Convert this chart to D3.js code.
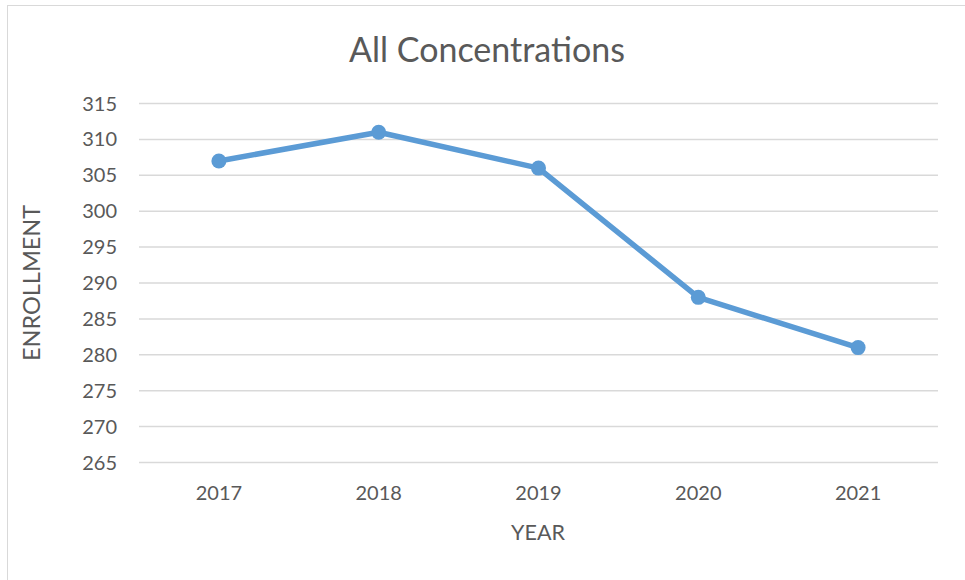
<!DOCTYPE html>
<html><head><meta charset="utf-8">
<script src="https://cdn.jsdelivr.net/npm/d3@7"></script>
<style>body{margin:0;background:#fff;} text{font-family:Lato, "Open Sans", sans-serif;fill:#595959;}</style>
</head><body>
<svg id="c" width="965" height="580"></svg>
<script>
const years = ["2017","2018","2019","2020","2021"];
const enrollment = [307, 311, 306, 288, 281];
const yTicks = [265,270,275,280,285,290,295,300,305,310,315];
const title = "All Concentrations";
const xTitle = "YEAR";
const yTitle = "ENROLLMENT";

(function(){
const svg = d3.select("#c");
svg.append("rect").attr("x",7.5).attr("y",5.5).attr("width",970).attr("height",590)
  .attr("fill","#fff").attr("stroke","#d9d9d9").attr("stroke-width",1);

const pl=139, pr=938, pt=103.5, pb=462.5;
const x = d3.scaleBand().domain(years).range([pl,pr]);
const y = d3.scaleLinear().domain([265,315]).range([pb,pt]);

svg.append("g").selectAll("line").data(yTicks).join("line")
  .attr("x1",pl).attr("x2",pr).attr("y1",d=>y(d)).attr("y2",d=>y(d))
  .attr("stroke","#d9d9d9").attr("stroke-width",1.5);

svg.append("g").selectAll("text").data(yTicks).join("text")
  .attr("x",117).attr("y",d=>y(d)).attr("dy","0.35em").attr("text-anchor","end")
  .attr("font-size",20).text(d=>d);

svg.append("g").selectAll("text").data(years).join("text")
  .attr("x",d=>x(d)+x.bandwidth()/2).attr("y",500).attr("text-anchor","middle")
  .attr("font-size",20).text(d=>d);

svg.append("text").attr("x",487).attr("y",62).attr("text-anchor","middle").attr("font-size",34).text(title);
svg.append("text").attr("x",538).attr("y",540).attr("text-anchor","middle").attr("font-size",21.5).text(xTitle);
svg.append("text").attr("transform","translate(40,283) rotate(-90)").attr("text-anchor","middle").attr("font-size",23.5).text(yTitle);

const data = years.map((yr,i)=>({yr, v:enrollment[i]}));
const line = d3.line().x(d=>x(d.yr)+x.bandwidth()/2).y(d=>y(d.v));
svg.append("path").datum(data).attr("d",line).attr("fill","none")
  .attr("stroke","#5b9bd5").attr("stroke-width",5.5).attr("stroke-linejoin","round").attr("stroke-linecap","round");
svg.append("g").selectAll("circle").data(data).join("circle")
  .attr("cx",d=>x(d.yr)+x.bandwidth()/2).attr("cy",d=>y(d.v)).attr("r",7.5)
  .attr("fill","#5b9bd5");
})();
</script>
</body></html>
